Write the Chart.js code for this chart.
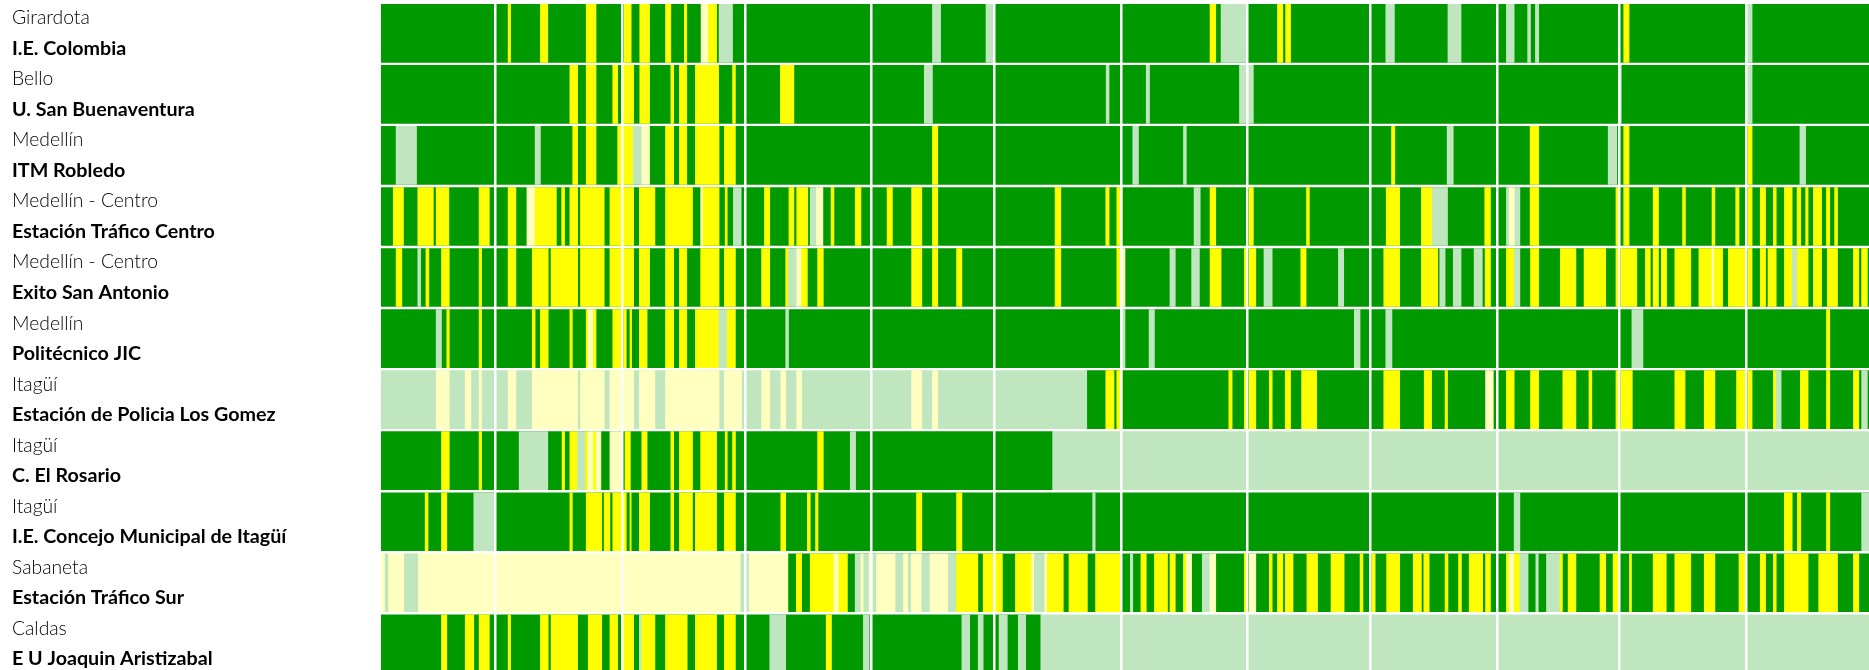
<!DOCTYPE html>
<html lang="es">
<head>
<meta charset="utf-8">
<title>Calidad del aire por estación</title>
<style>
  html, body { margin: 0; padding: 0; background: #fff; width: 1869px; height: 670px; overflow: hidden; }
  canvas { display: block; filter: blur(0.5px); }
</style>
<script src="https://cdn.jsdelivr.net/npm/chart.js@4/dist/chart.umd.min.js"></script>
</head>
<body>
<canvas id="chart" width="1869" height="675"></canvas>
<script>
// Text of the row labels
const cities = ['Girardota','Bello','Medellín','Medellín - Centro','Medellín - Centro','Medellín','Itagüí','Itagüí','Itagüí','Sabaneta','Caldas'];
const stations = ['I.E. Colombia','U. San Buenaventura','ITM Robledo','Estación Tráfico Centro','Exito San Antonio','Politécnico JIC','Estación de Policia Los Gomez','C. El Rosario','I.E. Concejo Municipal de Itagüí','Estación Tráfico Sur','E U Joaquin Aristizabal'];

// Day of the period on which each month starts
const monthStarts = [28,59,89,120,150,181,212,242,273,303,334];
const lastDay = 364;

// Runs per station: [first day, last day, state]. G good, Y moderate, g good (no valid data), y moderate (no valid data)
const colombia = [[0,364,'G'],[31.1,31.7,'Y'],[39,40.8,'Y'],[50.2,52.6,'Y'],[59.5,61.2,'Y'],[63.3,65.7,'Y'],[69.6,70.9,'Y'],[74.2,74.8,'Y'],[78.3,80.1,'y'],[80.1,82.1,'Y'],[82.7,86,'g'],[134.9,136.9,'g'],[148,150,'g'],[202.8,204.2,'Y'],[205.5,212,'g'],[219.3,220.6,'Y'],[221.3,222.5,'Y'],[245.8,247.9,'g'],[261,264.2,'g'],[275.3,277.2,'g'],[280.5,281.2,'g'],[282.4,283.2,'g'],[304,305.3,'Y'],[334,335.4,'g']];
const buenaventura = [[0,364,'G'],[46.2,48.1,'Y'],[50.2,52.6,'Y'],[56.7,57.9,'Y'],[59.2,61.8,'Y'],[63.3,65.7,'Y'],[70.9,71.6,'Y'],[73,74.8,'Y'],[76.9,82.6,'Y'],[86,86.7,'Y'],[97.7,101,'Y'],[132.9,134.9,'g'],[177.4,178.1,'g'],[187.2,188,'g'],[210,213.4,'g'],[303,303.4,'g'],[334,335.4,'g']];
const robledo = [[0,364,'G'],[3.7,8.7,'g'],[37.7,39,'g'],[46.9,48.1,'Y'],[50.2,52.6,'Y'],[57.9,61.7,'Y'],[61.7,63.8,'g'],[63.8,65.7,'y'],[69.6,71.6,'Y'],[73,74.8,'Y'],[76.9,82.7,'Y'],[84,86.7,'Y'],[134.9,136.2,'Y'],[183.9,185.3,'g'],[196.3,197,'g'],[247.2,248,'Y'],[260.8,262.3,'g'],[281.1,283.2,'Y'],[300.2,302.3,'g'],[304,305.3,'Y'],[334.4,335.4,'Y'],[347.1,348.5,'g']];
const traficoCentro = [[0,364,'G'],[3,5.5,'Y'],[9,12.8,'Y'],[13.5,16.6,'Y'],[24,26.5,'Y'],[31.1,33,'Y'],[35.7,37.7,'y'],[37.7,42.9,'Y'],[44.2,44.9,'Y'],[46.2,48.1,'Y'],[48.8,54.6,'Y'],[56,61.8,'Y'],[63.2,67,'Y'],[69.6,76.2,'Y'],[78.2,78.8,'y'],[78.8,82.7,'Y'],[84.2,84.7,'Y'],[86.2,88.1,'g'],[93.8,95.1,'Y'],[99.8,101,'Y'],[101.7,104.4,'Y'],[105,106.5,'g'],[106.5,108.1,'y'],[110.1,110.8,'Y'],[116,117.4,'Y'],[123.8,125.1,'Y'],[129.8,132.3,'Y'],[134.9,136.2,'Y'],[164.9,166.3,'Y'],[177.3,178.1,'Y'],[180,181.3,'Y'],[198.9,200.4,'g'],[202.8,204.2,'Y'],[212.4,213.4,'Y'],[226.4,227.1,'Y'],[245.9,249.2,'Y'],[254.5,257.2,'Y'],[257.2,260.9,'g'],[270,271.4,'Y'],[275.3,276,'g'],[276,277.4,'y'],[277.4,278.6,'g'],[281.1,283.2,'Y'],[302.1,302.9,'Y'],[304,305.3,'Y'],[311.2,312.5,'Y'],[318.4,319.1,'Y'],[325.6,326.3,'Y'],[331.4,332.2,'Y'],[334.4,335.4,'Y'],[337.4,338.7,'Y'],[340.6,341.3,'Y'],[343.3,345.2,'Y'],[346.4,347.3,'Y'],[348.5,349.1,'Y'],[350.4,352.4,'Y'],[353.6,354.4,'Y'],[355.6,356.3,'Y']];
const exito = [[0,364,'G'],[3.7,5.1,'Y'],[9,9.7,'g'],[11,11.7,'Y'],[14.8,16.7,'Y'],[24,24.6,'Y'],[31.1,33,'Y'],[37,40.9,'Y'],[41.6,48.1,'Y'],[48.8,54.6,'Y'],[56,61.8,'Y'],[63.2,65.7,'Y'],[69.6,71.6,'Y'],[73,74.8,'Y'],[78.2,82.7,'Y'],[84,86.7,'Y'],[93.1,95.1,'Y'],[99,99.7,'Y'],[99.7,101.7,'g'],[101.7,102.9,'y'],[102.9,104.3,'Y'],[106.8,108.2,'Y'],[129.8,132.3,'Y'],[134.9,136.2,'Y'],[140.8,142.1,'Y'],[164.9,166.3,'Y'],[180,180.8,'Y'],[181.3,182,'y'],[193,194.3,'g'],[198.3,200.2,'g'],[202.8,205.5,'Y'],[211.2,211.8,'Y'],[212.4,214,'Y'],[216,218,'g'],[225,226.3,'Y'],[234.2,235.5,'g'],[245.3,249.2,'Y'],[254.5,258.5,'Y'],[259,260.3,'g'],[262.3,264.2,'g'],[267.4,269.4,'g'],[270.1,271.4,'Y'],[275.3,277.2,'Y'],[277.2,278.6,'g'],[281.2,283.2,'Y'],[288.5,292.3,'Y'],[294.3,299.6,'Y'],[302.1,302.9,'Y'],[303.3,307.2,'Y'],[309.3,310.5,'Y'],[311.2,312.5,'Y'],[313.2,314.5,'Y'],[316.5,320.4,'Y'],[322.4,325.6,'Y'],[325.6,326.2,'y'],[326.2,328.2,'Y'],[329.6,333.8,'Y'],[334.4,335.4,'Y'],[337.4,338.7,'Y'],[339.3,341.3,'Y'],[343.3,345.2,'Y'],[345.2,346.5,'g'],[346.5,349.1,'Y'],[350.4,352.4,'Y'],[353.8,356.3,'Y'],[360.2,361.5,'Y'],[362.2,363.6,'Y']];
const politecnico = [[0,364,'G'],[13.5,14.8,'g'],[16.1,16.7,'Y'],[24,24.6,'Y'],[37,37.7,'Y'],[39,40.9,'Y'],[46.2,46.8,'Y'],[50.2,50.7,'Y'],[50.7,52,'y'],[52,52.6,'Y'],[56.7,58.7,'Y'],[59.4,60,'Y'],[60.9,61.3,'Y'],[63.2,65.1,'Y'],[69.6,71.6,'Y'],[73,74.8,'Y'],[76.9,82.7,'Y'],[82.7,84.7,'g'],[84.7,86.7,'Y'],[99,99.7,'g'],[181.3,182,'g'],[187.9,189.2,'g'],[238.1,239.5,'g'],[245.8,247.3,'g'],[306,308.7,'g'],[353.6,354.4,'Y']];
const losGomez = [[0,172.8,'g'],[172.8,364,'G'],[13.5,16.7,'y'],[20.6,22,'y'],[24,24.6,'y'],[31.1,33,'y'],[37,48.1,'y'],[48.8,54.6,'y'],[56,61.8,'y'],[63.2,67,'y'],[69.6,82.7,'y'],[84,88.2,'y'],[93.1,95.1,'y'],[97.8,99,'y'],[101.7,102.9,'y'],[129.8,132.3,'y'],[134.9,136.2,'y'],[177.3,179.3,'Y'],[180,181.3,'Y'],[207.4,208.2,'Y'],[211.2,211.8,'Y'],[212.4,214,'Y'],[217.3,218,'Y'],[221.2,222.5,'Y'],[225.2,228.9,'Y'],[245.3,249.2,'Y'],[255.2,257,'Y'],[260.3,260.9,'Y'],[270.2,272.1,'y'],[275.3,277.2,'Y'],[281.2,283.2,'Y'],[289.1,292.3,'Y'],[295.5,296.2,'Y'],[302.1,302.9,'Y'],[303.3,306.1,'Y'],[316.5,319,'Y'],[323.7,326.3,'Y'],[331.6,333.8,'Y'],[334.4,335.4,'Y'],[340.6,341.3,'Y'],[341.3,342.5,'g'],[347.2,349.1,'Y'],[353.6,354.4,'Y'],[360.2,361.5,'Y'],[362.2,363.6,'g']];
const elRosario = [[0,164.3,'G'],[164.3,364,'g'],[14.8,16.7,'Y'],[24,24.6,'Y'],[33.8,40.8,'g'],[44.3,44.9,'Y'],[46.2,48.1,'Y'],[48.1,50.1,'g'],[50.1,50.7,'Y'],[50.7,52,'y'],[52,52.7,'Y'],[52.7,53.8,'y'],[56,58.7,'y'],[59.7,61,'Y'],[63.8,65.1,'Y'],[70.9,71.6,'Y'],[73,76.2,'Y'],[78.2,82.1,'Y'],[84.2,84.7,'Y'],[86,86.7,'Y'],[106.8,108.2,'Y'],[114.8,116.1,'g']];
const concejo = [[0,364,'G'],[10.8,11.5,'Y'],[14.8,16.1,'Y'],[22.7,28,'g'],[46.2,46.8,'Y'],[50.2,54,'Y'],[54.6,56,'Y'],[56.7,58.7,'Y'],[59.2,60,'Y'],[60.9,61.2,'Y'],[63.2,65.7,'Y'],[70.9,71.6,'Y'],[73,76.2,'Y'],[76.9,82.1,'Y'],[84,86.7,'Y'],[97.8,99,'Y'],[104.3,105,'Y'],[106.3,106.9,'Y'],[131,132.3,'Y'],[140.8,142.1,'Y'],[174.1,174.7,'g'],[277.2,278.6,'g'],[343.3,345.2,'Y'],[346.5,347.3,'Y'],[353.6,354.4,'Y'],[362.2,364,'g']];
const traficoSur = [[0,99.7,'y'],[99.7,364,'G'],[1,1.7,'g'],[5.7,9,'g'],[88,89.9,'g'],[101.6,102.9,'Y'],[105,110.8,'Y'],[110.8,112,'y'],[112,114.1,'Y'],[116,117.4,'g'],[117.4,118.1,'y'],[118.1,119.4,'g'],[119.4,120.3,'y'],[120.3,121.2,'g'],[121.2,125.9,'y'],[125.9,127.8,'g'],[127.8,129,'y'],[129,129.7,'g'],[129.7,132.3,'y'],[132.3,134.3,'g'],[134.3,138.8,'y'],[138.8,140.8,'g'],[140.8,146,'Y'],[147.3,152,'Y'],[155.2,159.2,'Y'],[159.2,159.8,'y'],[159.8,162.4,'g'],[162.4,163,'y'],[163,166.9,'Y'],[168.3,172.8,'Y'],[174.8,180.8,'Y'],[183.3,183.9,'g'],[185.9,187.2,'Y'],[189.2,192.4,'Y'],[193,194.3,'Y'],[196.3,197,'Y'],[197,198.3,'y'],[200.9,202.8,'g'],[202.8,204.2,'y'],[211.2,211.8,'Y'],[212.4,214,'y'],[217.3,218,'Y'],[219.3,220.6,'Y'],[221.2,223.1,'Y'],[226.5,229.1,'Y'],[232.4,235.6,'Y'],[239.5,240.2,'Y'],[242.4,243.2,'Y'],[246,249.2,'Y'],[252.5,254.5,'Y'],[255.1,256.4,'Y'],[260.3,261,'Y'],[263.6,264.3,'Y'],[266.2,269.5,'Y'],[270.2,271.4,'Y'],[275.3,276,'Y'],[276,277.2,'y'],[277.2,278.6,'Y'],[278.6,280.6,'g'],[282.5,283.1,'g'],[285.1,288.4,'g'],[288.4,289,'Y'],[290.4,292.3,'Y'],[298.2,299.6,'Y'],[301.4,302.9,'Y'],[305.4,305.9,'Y'],[311.2,314.4,'Y'],[316.5,320.4,'Y'],[323.7,326.3,'Y'],[332.2,333.8,'Y'],[337.4,338.7,'Y'],[340.6,341.3,'Y'],[343.3,349.1,'Y'],[351.7,356.3,'Y'],[360.2,361.5,'Y']];
const aristizabal = [[0,161.4,'G'],[161.4,364,'g'],[14.8,16.1,'Y'],[20.6,22.7,'Y'],[24,26.5,'Y'],[31.1,31.7,'Y'],[39,40.9,'Y'],[41.6,48.1,'Y'],[50.7,54,'Y'],[56,57.9,'Y'],[59.2,61.8,'Y'],[63.2,63.8,'g'],[63.8,67,'Y'],[69.6,74.9,'Y'],[76.9,82.1,'Y'],[84,86.7,'Y'],[95.1,99,'g'],[108.9,110.2,'Y'],[118,119.4,'g'],[142.1,144,'g'],[146.1,147.3,'g'],[151.2,153.2,'g'],[155.9,157.7,'g']];

const rowRuns = [colombia,buenaventura,robledo,traficoCentro,exito,politecnico,losGomez,elRosario,concejo,traficoSur,aristizabal];

// Styles
const stateColors = { G:'#009900', Y:'#ffff00', g:'#bfe6bf', y:'#ffffbf' };
const labelFamily = 'Lato, "Open Sans", sans-serif';

const axisLabels = cities.flatMap((c, i) => [c, stations[i]]);
const points = rowRuns.flatMap((runs, i) =>
  runs.map(([from, to, state]) => ({ x: [from, to], y: stations[i], state })));

new Chart(document.getElementById('chart'), {
  type: 'bar',
  data: {
    datasets: [{
      data: points,
      xAxisID: 'x',
      yAxisID: 'y',
      barThickness: 58,
      borderWidth: 0,
      borderSkipped: false,
      backgroundColor: ctx => stateColors[ctx.raw.state]
    }]
  },
  options: {
    indexAxis: 'y',
    responsive: false,
    animation: false,
    events: [],
    layout: { padding: { top: 2.8, bottom: 0.65, left: 12, right: 0 } },
    plugins: { legend: { display: false }, tooltip: { enabled: false }, title: { display: false } },
    scales: {
      x: {
        type: 'linear',
        position: 'bottom',
        min: 0,
        max: lastDay,
        afterBuildTicks: scale => { scale.ticks = monthStarts.map(v => ({ value: v })); },
        ticks: { display: false },
        border: { display: false },
        grid: { color: '#ffffff', lineWidth: 2.5, drawTicks: false, z: 1 }
      },
      y: {
        type: 'category',
        labels: stations,
        display: false,
        offset: true,
        grid: { display: false }
      },
      rowLabels: {
        type: 'category',
        position: 'left',
        labels: axisLabels,
        offset: true,
        display: true,
        afterFit: scale => { scale.width = 369; scale.paddingTop = 0; scale.paddingBottom = 0; },
        border: { display: false },
        grid: { display: false, drawTicks: false },
        ticks: {
          autoSkip: false,
          crossAlign: 'far',
          padding: 0,
          color: '#000000',
          maxRotation: 0,
          minRotation: 0,
          font: ctx => ctx.index % 2
            ? { family: labelFamily, size: 19.7, weight: '700' }
            : { family: labelFamily, size: 19.3, weight: '300' }
        }
      }
    }
  }
});
</script>
</body>
</html>
